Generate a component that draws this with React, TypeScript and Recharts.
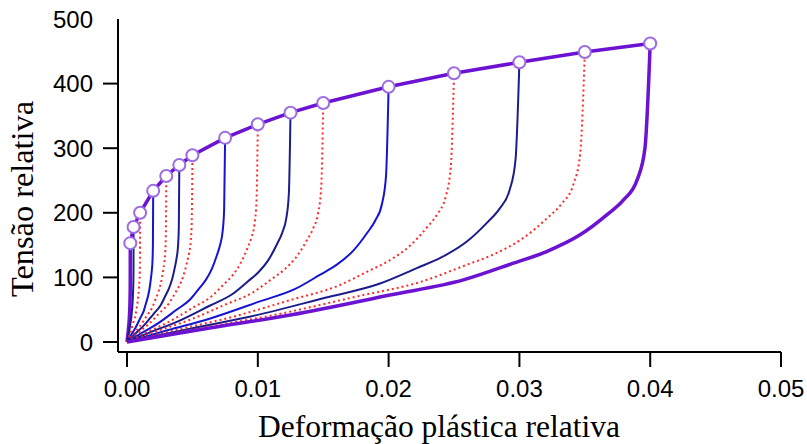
import React from 'react';
import { LineChart, Line, XAxis, YAxis, Label } from 'recharts';

// Envelope points (strain, stress)
const strainLevels = [0.00025, 0.0005, 0.001, 0.002, 0.003, 0.004, 0.005, 0.0075, 0.01, 0.0125, 0.015, 0.02, 0.025, 0.03, 0.035, 0.04];
const stressLevels = [153, 178, 200, 234, 257, 274, 289, 316, 337, 355, 370, 395, 416, 433, 449, 462];

// Normalised curve shape (fraction of end strain, fraction of end stress)
const shapeU = [0, 0.155, 0.315, 0.505, 0.643, 0.7385, 0.802, 0.866, 0.917, 0.949, 0.975, 0.99, 1.0];
const shapeV = [0, 0.046, 0.091, 0.158, 0.208, 0.264, 0.303, 0.359, 0.426, 0.476, 0.543, 0.65, 1.0];

const xTicks = [0, 0.01, 0.02, 0.03, 0.04, 0.05];
const yTicks = [0, 100, 200, 300, 400, 500];

const envelope = strainLevels.map((x, i) => ({ x, y: stressLevels[i] }));
const curves = strainLevels.map((e, i) =>
  shapeU.map((u, j) => ({ x: e * u, y: stressLevels[i] * shapeV[j] }))
);

const PURPLE = '#6c12d2';
const MARKER = '#9d6be3';
const BLUE = '#1414d2';
const NAVY = '#1c1c8c';
const RED = '#ff2b2b';
const SERIF = "'Liberation Serif', 'DejaVu Serif', 'Noto Serif', serif";
const SANS = "'Liberation Sans', Arial, sans-serif";

function styleFor(i: number, n: number) {
  if (i === 0 || i === n - 1) return { stroke: PURPLE, strokeWidth: 3.5, strokeDasharray: undefined as string | undefined };
  if (i % 2 === 1) {
    const k = (i - 1) / 2;
    return { stroke: k % 2 === 0 ? NAVY : BLUE, strokeWidth: 2, strokeDasharray: undefined };
  }
  return { stroke: RED, strokeWidth: 2, strokeDasharray: '2 3' };
}

const YTick = (props: any) => {
  const { x, y, payload } = props;
  return (
    <g>
      {payload.value !== 500 && (
        <line x1={x + 10} x2={x + 25} y1={y} y2={y} stroke="#000" strokeWidth={2} />
      )}
      <text x={x} y={y} dy="0.355em" textAnchor="end" fontSize={24} fontFamily={SANS} fill="#000">
        {payload.value}
      </text>
    </g>
  );
};

export default function App() {
  const n = curves.length;
  return (
    <div style={{ position: 'absolute', left: 0, top: 0 }}>
      <LineChart width={807} height={444} margin={{ top: 19, right: 26, left: 0, bottom: 0 }}>
        <XAxis
          type="number"
          dataKey="x"
          domain={[-0.00069, 0.05]}
          ticks={xTicks}
          allowDataOverflow
          height={92}
          tickSize={15}
          tickMargin={13}
          tickFormatter={(v: number) => v.toFixed(2)}
          axisLine={{ stroke: '#000', strokeWidth: 2 }}
          tickLine={{ stroke: '#000', strokeWidth: 2 }}
          tick={{ fontSize: 24, fill: '#000', fontFamily: SANS }}
        >
          <Label
            content={() => (
              <text
                x={439}
                y={437}
                textAnchor="middle"
                fill="#000"
                fontFamily={SERIF}
                fontSize={32}
                textLength={362}
                lengthAdjust="spacingAndGlyphs"
              >
                Deformação plástica relativa
              </text>
            )}
          />
        </XAxis>
        <YAxis
          type="number"
          dataKey="y"
          domain={[-15.5, 500]}
          ticks={yTicks}
          allowDataOverflow
          width={118}
          tickSize={15}
          tickMargin={10}
          axisLine={{ stroke: '#000', strokeWidth: 2 }}
          tickLine={false}
          tick={<YTick />}
        >
          <Label
            content={() => (
              <text
                transform="translate(33,199) rotate(-90)"
                textAnchor="middle"
                fill="#000"
                fontFamily={SERIF}
                fontSize={32}
                textLength={196}
                lengthAdjust="spacingAndGlyphs"
              >
                Tensão relativa
              </text>
            )}
          />
        </YAxis>
        {curves.map((data, i) => {
          const s = styleFor(i, n);
          return (
            <Line
              key={i}
              data={data}
              dataKey="y"
              type="monotone"
              stroke={s.stroke}
              strokeWidth={s.strokeWidth}
              strokeDasharray={s.strokeDasharray}
              dot={false}
              activeDot={false}
              isAnimationActive={false}
            />
          );
        })}
        <Line
          data={envelope}
          dataKey="y"
          type="linear"
          stroke={PURPLE}
          strokeWidth={3.5}
          dot={{ r: 6, fill: '#fff', stroke: MARKER, strokeWidth: 2 }}
          activeDot={false}
          isAnimationActive={false}
        />
      </LineChart>
    </div>
  );
}
